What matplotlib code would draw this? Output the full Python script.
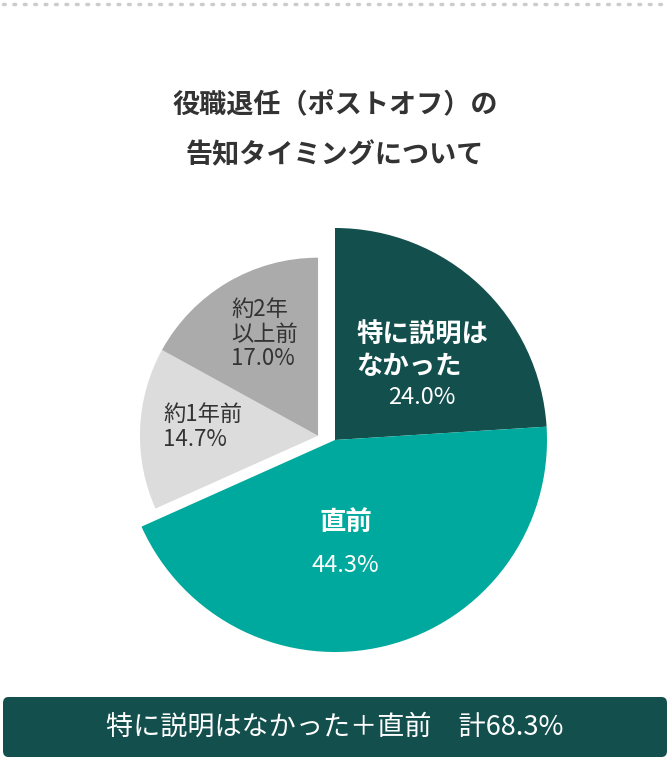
import matplotlib
matplotlib.use("Agg")
import matplotlib.pyplot as plt
from matplotlib.patches import FancyBboxPatch
from matplotlib.lines import Line2D

plt.rcParams['font.family'] = ['Noto Sans CJK JP', 'DejaVu Sans']

categories = ["特に説明は\nなかった", "直前", "約1年前", "約2年\n以上前"]
values = [24.0, 44.3, 14.7, 17.0]
colors = ["#134f4d", "#00a99d", "#dcdcdc", "#ababab"]

W, H = 670, 761
fig = plt.figure(figsize=(W/100, H/100), dpi=100)
fig.patch.set_facecolor("white")

fig.add_artist(Line2D([0.005, 0.995], [1-4/H, 1-4/H], transform=fig.transFigure,
                      color="#cccccc", lw=2.5, linestyle=(0, (0.5, 2.5)), dash_capstyle="round"))

fig.text(0.5, 1-105/H, "役職退任（ポストオフ）の", ha="center", va="center",
         fontsize=19.5, fontweight="bold", color="#333333")
fig.text(0.5, 1-155/H, "告知タイミングについて", ha="center", va="center",
         fontsize=19.5, fontweight="bold", color="#333333")

cx, cy, r = 335, 440, 212
ax = fig.add_axes([(cx-1.1*r)/W, (H-cy-1.1*r)/H, 2.2*r/W, 2.2*r/H])
wedges, _ = ax.pie(values, colors=colors, startangle=90, counterclock=False,
                   radius=1, wedgeprops=dict(linewidth=0))
for w in wedges[2:]:
    w.set_center((-0.08, 0.02))
    w.set_radius(0.84)
ax.set_xlim(-1.1, 1.1); ax.set_ylim(-1.1, 1.1)
ax.set_aspect("equal")
ax.axis("off")

ax.text(0.10, 0.42, categories[0], ha="left", va="center", fontsize=19,
        fontweight="bold", color="white", linespacing=1.2)
ax.text(0.41, 0.20, f"{values[0]:.1f}%", ha="center", va="center", fontsize=17, color="white")
ax.text(0.05, -0.39, categories[1], ha="center", va="center", fontsize=19,
        fontweight="bold", color="white")
ax.text(0.05, -0.59, f"{values[1]:.1f}%", ha="center", va="center", fontsize=17, color="white")
ax.text(-0.81, 0.06, categories[2] + f"\n{values[2]:.1f}%", ha="left", va="center",
        fontsize=16, color="#333333", linespacing=1.1)
ax.text(-0.49, 0.50, categories[3] + f"\n{values[3]:.1f}%", ha="left", va="center",
        fontsize=16, color="#333333", linespacing=1.1)

box = FancyBboxPatch((3/W, 1-757/H), 664/W, 60/H, boxstyle="round,pad=0,rounding_size=0.008",
                     transform=fig.transFigure, facecolor="#134f4d", edgecolor="none")
fig.add_artist(box)
total = values[0] + values[1]
fig.text(0.5, 1-727/H, f"特に説明はなかった＋直前　計{total:.1f}%", ha="center", va="center",
         fontsize=19.5, color="white")

fig.savefig("out.png", dpi=100)
